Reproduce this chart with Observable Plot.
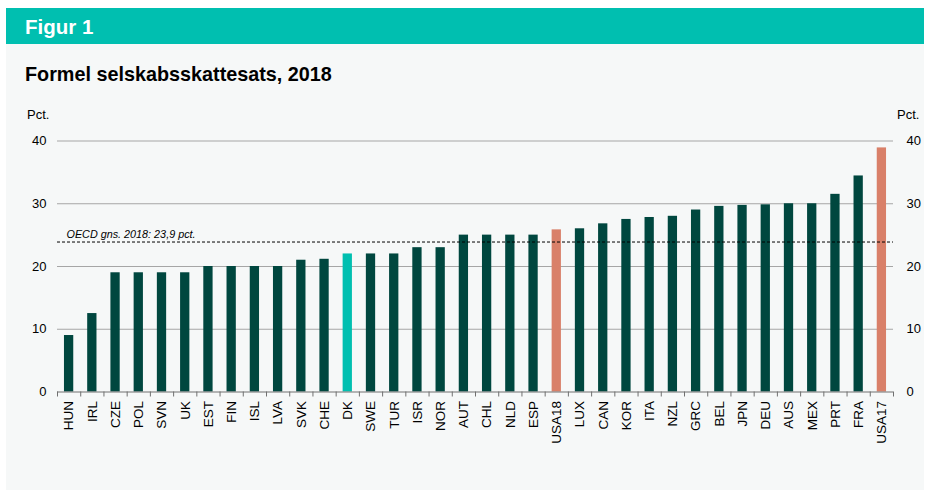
<!DOCTYPE html>
<html>
<head>
<meta charset="utf-8">
<script src="https://cdn.jsdelivr.net/npm/d3@7"></script>
<script src="https://cdn.jsdelivr.net/npm/@observablehq/plot@0.6"></script>
<style>
  html, body { margin: 0; padding: 0; background: #ffffff; }
  body { width: 931px; height: 493px; position: relative; overflow: hidden; font-family: "Liberation Sans", Arial, sans-serif; }
  #panel { position: absolute; left: 6px; top: 44px; width: 918px; height: 446px; background: #f6f8f8; }
  #header { position: absolute; left: 6px; top: 8px; width: 918px; height: 36px; background: #00bfb0; }
  .t { position: absolute; line-height: 1; white-space: nowrap; }
  #fig { left: 25px; top: 17px; font-size: 20.5px; font-weight: bold; color: #ffffff; }
  #title { left: 25px; top: 65px; font-size: 19.8px; font-weight: bold; color: #000; }
  #pctL { left: 27px; top: 108px; font-size: 13px; color: #000; }
  #pctR { left: 897px; top: 108px; font-size: 13px; color: #000; }
  #chart { position: absolute; left: 0; top: 100px; }
</style>
</head>
<body>
<div id="panel"></div>
<div id="header"></div>
<div class="t" id="fig">Figur 1</div>
<div class="t" id="title">Formel selskabsskattesats, 2018</div>
<div class="t" id="pctL">Pct.</div>
<div class="t" id="pctR">Pct.</div>
<div id="chart"></div>
<script>
const countries = ["HUN","IRL","CZE","POL","SVN","UK","EST","FIN","ISL","LVA","SVK","CHE","DK","SWE","TUR","ISR","NOR","AUT","CHL","NLD","ESP","USA18","LUX","CAN","KOR","ITA","NZL","GRC","BEL","JPN","DEU","AUS","MEX","PRT","FRA","USA17"];
const rates = [9, 12.5, 19, 19, 19, 19, 20, 20, 20, 20, 21, 21.15, 22, 22, 22, 23, 23, 25, 25, 25, 25, 25.84, 26.01, 26.8, 27.5, 27.81, 28, 29, 29.58, 29.74, 29.83, 30, 30, 31.5, 34.43, 38.9];
const highlightDK = ["DK"];
const highlightUSA = ["USA18", "USA17"];
const oecdAvg = 23.9;
const oecdLabel = "OECD gns. 2018: 23,9 pct.";
const yTicks = [0, 10, 20, 30, 40];
const gridTicks = [10, 20, 30, 40];

const colDark = "#00473f";
const colDK = "#00bfb0";
const colUSA = "#d98069";

const data = countries.map((c, i) => ({country: c, rate: rates[i]}));
const fillFor = c => highlightDK.includes(c) ? colDK : highlightUSA.includes(c) ? colUSA : colDark;

const W = 931, H = 380, mL = 57, mR = 38, mT = 40.5, mB = 88.5;
const step = (W - mL - mR) / countries.length;

const plot = Plot.plot({
  width: W,
  height: H,
  marginLeft: mL,
  marginRight: mR,
  marginTop: mT,
  marginBottom: mB,
  style: {background: "transparent", fontFamily: "'Liberation Sans', Arial, sans-serif", color: "#000", overflow: "visible"},
  x: {domain: countries, paddingInner: 0.6, paddingOuter: 0.3, round: false, label: null},
  y: {domain: [0, 40], label: null},
  marks: [
    Plot.gridY(gridTicks, {stroke: "#a6a6a6", strokeOpacity: 1, strokeWidth: 1}),
    Plot.barY(data, {x: "country", y: "rate", fill: d => fillFor(d.country)}),
    Plot.ruleY([0], {stroke: "#707070", strokeWidth: 1}),
    Plot.ruleY([oecdAvg], {stroke: "#000", strokeWidth: 1, strokeDasharray: "3,2"}),
    Plot.text([oecdLabel], {frameAnchor: "left", y: oecdAvg, dx: 9, dy: -4, lineAnchor: "bottom", textAnchor: "start", fontSize: 10.8, fontStyle: "italic", fill: "#000"}),
    Plot.axisY({anchor: "left", ticks: yTicks, tickSize: 0, tickPadding: 11, fontSize: 13, label: null}),
    Plot.axisY({anchor: "right", ticks: yTicks, tickSize: 0, tickPadding: 13, fontSize: 13, label: null}),
    Plot.axisX({ticks: countries, tickSize: 5, text: null, dx: -step / 2, stroke: "#707070"}),
    Plot.axisX({ticks: [countries[countries.length - 1]], tickSize: 5, text: null, dx: step / 2, stroke: "#707070"}),
    Plot.axisX({tickSize: 0, tickPadding: 9, tickRotate: -90, fontSize: 13.5, label: null})
  ]
});
document.getElementById("chart").appendChild(plot);
</script>
</body>
</html>
